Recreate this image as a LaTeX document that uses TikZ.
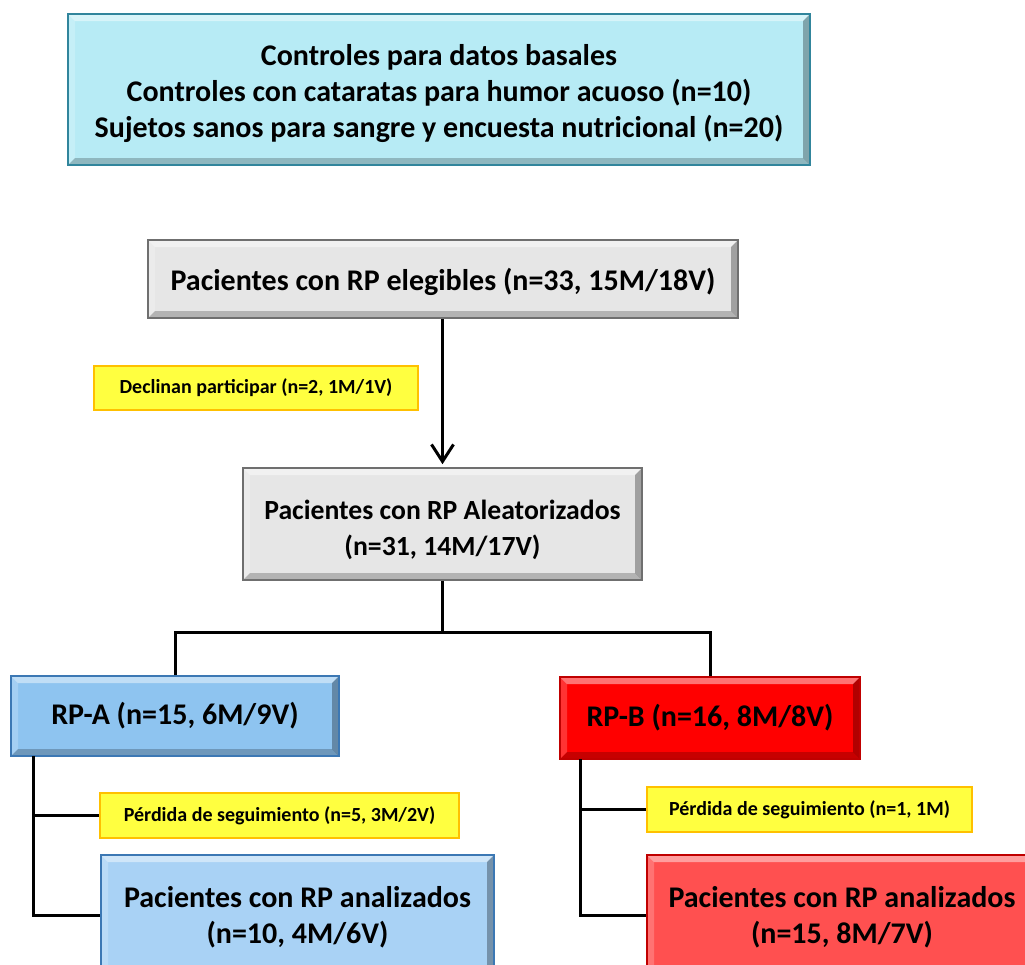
\documentclass[tikz,border=0pt]{standalone}
\usepackage{fontspec}
\setmainfont{Carlito}
\usetikzlibrary{arrows.meta}
\definecolor{topfill}{HTML}{B7EBF5}
\definecolor{topline}{HTML}{31859C}
\definecolor{grayfill}{HTML}{E6E6E6}
\definecolor{grayline}{HTML}{6F6F6F}
\definecolor{yelfill}{HTML}{FFFF40}
\definecolor{yelline}{HTML}{FFC000}
\definecolor{bluefill}{HTML}{8EC4F0}
\definecolor{blueline}{HTML}{3C78B4}
\definecolor{lbluefill}{HTML}{A9D2F5}
\definecolor{redfill}{HTML}{FF0000}
\definecolor{redline}{HTML}{C00000}
\definecolor{lredfill}{HTML}{FF5050}
\tikzset{
  bev/.style={path picture={
    \path (path picture bounding box.north west) coordinate (bNW)
          (path picture bounding box.north east) coordinate (bNE)
          (path picture bounding box.south west) coordinate (bSW)
          (path picture bounding box.south east) coordinate (bSE);
    \fill[white,opacity=.45] (bNW) -- (bNE) -- ([shift={(-7pt,-7pt)}]bNE) -- ([shift={(7pt,-7pt)}]bNW) -- cycle;
    \fill[white,opacity=.2] (bNW) -- ([shift={(7pt,-7pt)}]bNW) -- ([shift={(7pt,7pt)}]bSW) -- (bSW) -- cycle;
    \fill[black,opacity=.22] (bSW) -- ([shift={(7pt,7pt)}]bSW) -- ([shift={(-7pt,7pt)}]bSE) -- (bSE) -- cycle;
    \fill[black,opacity=.3] (bNE) -- (bSE) -- ([shift={(-7pt,7pt)}]bSE) -- ([shift={(-7pt,-7pt)}]bNE) -- cycle;
  }},
  box/.style={rectangle, draw, line width=1.6pt, inner sep=0pt, align=center, bev},
  bigtxt/.style={font=\fontsize{30}{36}\selectfont\bfseries},
  midtxt/.style={font=\fontsize{27.7}{36}\selectfont\bfseries},
  topbox/.style={box, bigtxt, fill=topfill, draw=topline},
  graybox/.style={box, bigtxt, fill=grayfill, draw=grayline},
  yelbox/.style={rectangle, draw=yelline, fill=yelfill, line width=1.8pt, inner sep=0pt,
     font=\fontsize{20}{24}\selectfont\bfseries},
  armA/.style={box, bigtxt, fill=bluefill, draw=blueline},
  anaAbox/.style={box, bigtxt, fill=lbluefill, draw=blueline},
  armB/.style={box, bigtxt, fill=redfill, draw=redline},
  anaBbox/.style={box, bigtxt, fill=lredfill, draw=redline},
  conn/.style={line width=3pt, black},
}
\begin{document}
\begin{tikzpicture}[x=1pt,y=-1pt]
\useasboundingbox (0,0) rectangle (1025,964);
\clip (0,0) rectangle (1025,964);
\fill[white] (0,0) rectangle (1025,964);

\node[topbox, minimum width=742pt, minimum height=151pt] (ctrl) at (439,89.5)
  {\rule{0pt}{29pt}Controles para datos basales\\Controles con cataratas para humor acuoso (n=10)\\Sujetos sanos para sangre y encuesta nutricional (n=20)};

\node[graybox, minimum width=590pt, minimum height=78pt] (eleg) at (443,279)
  {\rule{0pt}{29pt}Pacientes con RP elegibles (n=33, 15M/18V)};

\node[yelbox, minimum width=324pt, minimum height=44pt] (decl) at (256,388)
  {Declinan participar (n=2, 1M/1V)};

\node[graybox, midtxt, minimum width=399pt, minimum height=112pt] (alea) at (442.5,524)
  {\rule{0pt}{31pt}Pacientes con RP Aleatorizados\\(n=31, 14M/17V)};

\node[armA, minimum width=328pt, minimum height=80pt] (rpa) at (175,716)
  {RP-A (n=15, 6M/9V)};
\node[armB, minimum width=300pt, minimum height=82pt] (rpb) at (710,718)
  {RP-B (n=16, 8M/8V)};

\node[yelbox, minimum width=359pt, minimum height=45pt] (perdA) at (279.5,815.5)
  {Pérdida de seguimiento (n=5, 3M/2V)};
\node[yelbox, minimum width=325pt, minimum height=45pt] (perdB) at (809.5,809.5)
  {Pérdida de seguimiento (n=1, 1M)};

\node[anaAbox, minimum width=393pt, minimum height=120pt] (anaA) at (297.5,915)
  {\rule{0pt}{25pt}Pacientes con RP analizados\\(n=10, 4M/6V)};
\node[anaBbox, minimum width=390pt, minimum height=120pt] (anaB) at (842,915)
  {\rule{0pt}{25pt}Pacientes con RP analizados\\(n=15, 8M/7V)};

% connectors
\draw[conn, shorten >=3pt, -{Straight Barb[length=17pt,width=22pt,line width=3pt]}] (alea.north |- eleg.south) -- (alea.north);
\coordinate (split) at (442,632);
\draw[conn] (alea.south) -- (alea.south |- split);
\draw[conn] (rpa.north) -- (rpa.north |- split) -- (rpb.north |- split) -- (rpb.north);

\coordinate (lA) at (33,756);
\draw[conn] (lA) |- (anaA.west);
\draw[conn] (lA |- perdA.west) -- (perdA.west);

\coordinate (lB) at (580,759);
\draw[conn] (lB) |- (anaB.west);
\draw[conn] (lB |- perdB.west) -- (perdB.west);
\end{tikzpicture}
\end{document}
